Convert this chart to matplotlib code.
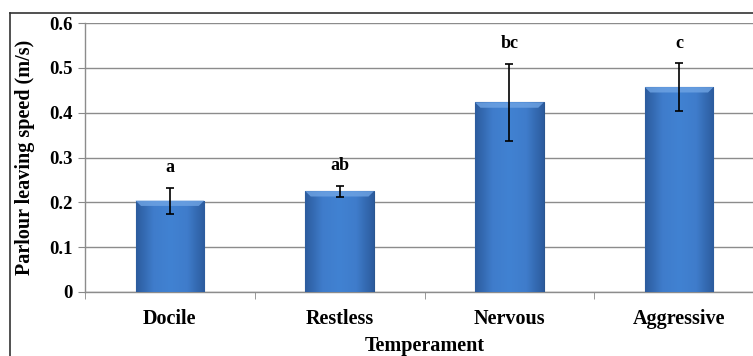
import matplotlib
matplotlib.use('Agg')
import matplotlib.pyplot as plt
from matplotlib.lines import Line2D
from matplotlib.colors import LinearSegmentedColormap
import numpy as np

categories = ['Docile', 'Restless', 'Nervous', 'Aggressive']
speed = [0.204, 0.225, 0.423, 0.457]
errors = [0.029, 0.012, 0.086, 0.053]
letters = ['a', 'ab', 'bc', 'c']

plt.rcParams['font.family'] = ['Liberation Serif', 'DejaVu Serif']
plt.rcParams['font.weight'] = 'bold'

fig = plt.figure(figsize=(7.53, 3.56), dpi=100)
ax = fig.add_axes([85 / 753, 1 - 292 / 356, 679 / 753, 269 / 356])

x = np.arange(len(categories))
bars = ax.bar(x, speed, width=0.405, color='#3d78c6', edgecolor='#2a5690', linewidth=0.8, zorder=3)

# soft bevel shading inside each bar, like the office chart style
cmap = LinearSegmentedColormap.from_list('bev', ['#2c5c9e', '#3f7ccb', '#4182d2', '#3f7ccb', '#2c5c9e'])
grad = np.linspace(0, 1, 64).reshape(1, -1)
for b in bars:
    x0, w, h = b.get_x(), b.get_width(), b.get_height()
    im = ax.imshow(grad, cmap=cmap, aspect='auto', extent=[x0, x0 + w, 0, h], zorder=3.1)
    im.set_clip_path(b)
    ax.fill([x0, x0 + w, x0 + w * 0.92, x0 + w * 0.08], [h, h, h - 0.012, h - 0.012],
            color='#6fa4e4', alpha=0.8, zorder=3.2, linewidth=0)

ax.errorbar(x, speed, yerr=errors, fmt='none', ecolor='black', elinewidth=1.2,
            capsize=3, capthick=1.2, zorder=4)

for i in range(len(categories)):
    ax.text(x[i], speed[i] + errors[i] + 0.045, letters[i], ha='center', va='center',
            fontsize=13, fontweight='bold')

ax.set_xlim(-0.5, len(categories) - 0.5)
ax.set_ylim(0, 0.6)
ax.set_yticks([0, 0.1, 0.2, 0.3, 0.4, 0.5, 0.6])
ax.set_yticklabels(['0', '0.1', '0.2', '0.3', '0.4', '0.5', '0.6'], fontsize=13.5, fontweight='bold')
ax.set_xticks(x)
ax.set_xticklabels(categories, fontsize=14.5, fontweight='bold')
ax.set_xticks(np.arange(-0.5, len(categories)), minor=True)
ax.tick_params(axis='x', which='major', length=0, pad=12)
ax.tick_params(axis='x', which='minor', length=5, color='#888888')
ax.tick_params(axis='y', length=5, color='#888888', pad=4)

ax.grid(axis='y', color='#8c8c8c', linewidth=1, zorder=0)
ax.set_axisbelow(True)
for s in ['top', 'right']:
    ax.spines[s].set_visible(False)
for s in ['left', 'bottom']:
    ax.spines[s].set_color('#8c8c8c')
    ax.spines[s].set_linewidth(1)

ax.set_ylabel('Parlour leaving speed (m/s)', fontsize=14.5, fontweight='bold')
ax.yaxis.set_label_coords(-0.073, 0.5)
ax.set_xlabel('Temperament', fontsize=14.5, fontweight='bold', va='center')
ax.xaxis.set_label_coords(0.5, -0.2)

# outer chart border (cropped on right and bottom)
fig.add_artist(Line2D([10 / 753, 10 / 753], [0, 1 - 12.5 / 356], color='#333333', linewidth=1.2,
                      transform=fig.transFigure))
fig.add_artist(Line2D([10 / 753, 1], [1 - 12.5 / 356, 1 - 12.5 / 356], color='#333333', linewidth=1.2,
                      transform=fig.transFigure))

fig.savefig('out.png', dpi=100)
